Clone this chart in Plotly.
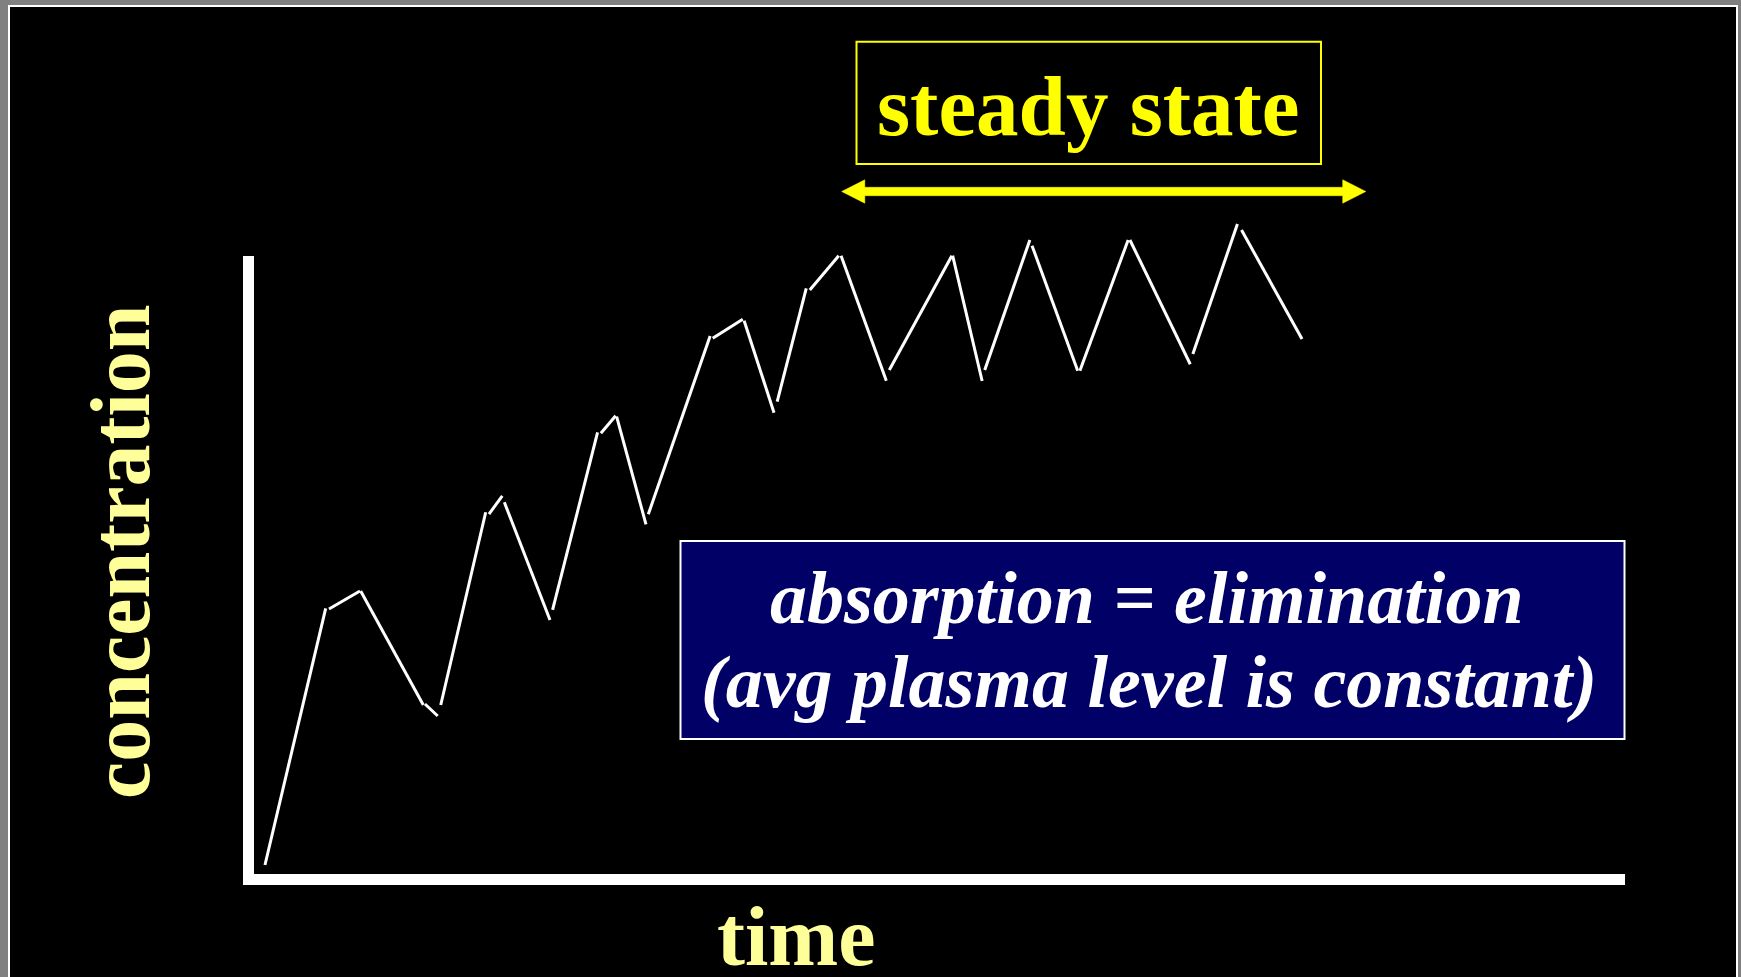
import plotly.graph_objects as go

# ---------------- data (time in arbitrary units, concentration in %) ----------------
# the curve is drawn as short hand-drawn strokes; None separates strokes
time = [0.80, 5.23, None,
        5.47, 7.73, None,
        7.78, 12.35, None,
        12.47, 13.40, None,
        13.62, 16.90, None,
        17.14, 18.11, None,
        18.26, 21.59, None,
        21.78, 25.06, None,
        25.30, 26.38, None,
        26.45, 28.59, None,
        28.76, 33.27, None,
        33.46, 35.65, None,
        35.75, 37.93, None,
        38.16, 40.28, None,
        40.54, 42.65, None,
        42.82, 46.12, None,
        46.34, 50.90, None,
        50.96, 53.11, None,
        53.30, 56.59, None,
        56.75, 60.08, None,
        60.24, 63.76, None,
        63.89, 68.29, None,
        68.48, 71.73, None,
        72.03, 76.44]
conc = [1.46, 42.99, None,
        42.88, 45.79, None,
        45.79, 27.35, None,
        27.51, 25.57, None,
        27.35, 58.53, None,
        58.25, 61.17, None,
        60.15, 41.10, None,
        42.72, 71.47, None,
        71.31, 74.16, None,
        74.00, 56.59, None,
        58.20, 87.06, None,
        86.68, 89.76, None,
        89.53, 74.64, None,
        76.42, 94.77, None,
        94.50, 100.05, None,
        100.05, 79.82, None,
        81.55, 100.05, None,
        100.05, 79.77, None,
        81.55, 102.59, None,
        101.67, 81.44, None,
        81.44, 102.59, None,
        102.59, 82.48, None,
        84.14, 105.18, None,
        104.21, 86.57]

x_label = "time"
y_label = "concentration"
phase_label = "steady state"
note_lines = ["absorption = elimination", "(avg plasma level is constant)"]

# ---------------- layout helpers (pixel -> paper) ----------------
W, H = 1741, 977
def X(px):
    return px / W
def Y(py):
    return 1 - py / H

SERIF = "Liberation Serif, Times New Roman, serif"
LIGHT_YELLOW = "#FFFF99"
YELLOW = "#FFFF00"

x_range = [0, 100]
y_range = [0, 130]
px_per_y = 6.18
plot_left, plot_right, plot_bottom = 254, 1625, 874
plot_top = plot_bottom - (y_range[1] - y_range[0]) * px_per_y

fig = go.Figure()
fig.add_trace(go.Scatter(
    x=time, y=conc, mode="lines",
    line=dict(color="white", width=3),
    connectgaps=False, hoverinfo="skip", showlegend=False,
))

shapes = [
    dict(type="rect", xref="paper", yref="paper", layer="below",
         x0=X(9), x1=X(1737), y0=Y(6), y1=Y(1000),
         fillcolor="black", line=dict(color="white", width=2)),
    dict(type="rect", xref="paper", yref="paper", layer="above",
         x0=X(243), x1=X(254), y0=Y(256), y1=Y(885),
         fillcolor="white", line=dict(width=0)),
    dict(type="rect", xref="paper", yref="paper", layer="above",
         x0=X(243), x1=X(1625), y0=Y(874), y1=Y(885),
         fillcolor="white", line=dict(width=0)),
    dict(type="rect", xref="paper", yref="paper", layer="above",
         x0=X(856.5), x1=X(1321), y0=Y(41.7), y1=Y(164),
         fillcolor="rgba(0,0,0,0)", line=dict(color=YELLOW, width=2)),
    dict(type="rect", xref="paper", yref="paper", layer="above",
         x0=X(680.5), x1=X(1624.5), y0=Y(541), y1=Y(739),
         fillcolor="#000066", line=dict(color="white", width=2)),
]

ay, bar_h, head_h = 191.5, 4.2, 11.7
lt, lb, rb, rt = 841.7, 864.8, 1342.7, 1365.8
pts = [(lt, ay), (lb, ay - head_h), (lb, ay - bar_h), (rb, ay - bar_h), (rb, ay - head_h),
       (rt, ay), (rb, ay + head_h), (rb, ay + bar_h), (lb, ay + bar_h), (lb, ay + head_h)]
path = "M " + " L ".join(f"{X(px):.6f},{Y(py):.6f}" for px, py in pts) + " Z"
shapes.append(dict(type="path", xref="paper", yref="paper", layer="above", path=path,
                   fillcolor=YELLOW, line=dict(color=YELLOW, width=0.5)))

annotations = [
    dict(text=phase_label, xref="paper", yref="paper", x=X(1088.5), y=Y(105.5),
         xanchor="center", yanchor="middle", showarrow=False,
         font=dict(family=SERIF, size=85, color=YELLOW, weight="bold")),
    dict(text=note_lines[0], xref="paper", yref="paper", x=X(1147), y=Y(597.7),
         xanchor="center", yanchor="middle", showarrow=False,
         font=dict(family=SERIF, size=74, color="white", weight="bold", style="italic")),
    dict(text=note_lines[1], xref="paper", yref="paper", x=X(1149), y=Y(681.7),
         xanchor="center", yanchor="middle", showarrow=False,
         font=dict(family=SERIF, size=74, color="white", weight="bold", style="italic")),
    dict(text=x_label, xref="paper", yref="paper", x=X(796), y=Y(936.6),
         xanchor="center", yanchor="middle", showarrow=False,
         font=dict(family=SERIF, size=84, color=LIGHT_YELLOW, weight="bold")),
    dict(text=y_label, xref="paper", yref="paper", x=X(120.5), y=Y(551.5),
         xanchor="center", yanchor="middle", showarrow=False, textangle=-90,
         font=dict(family=SERIF, size=84, color=LIGHT_YELLOW, weight="bold")),
]

fig.update_layout(
    width=W, height=H, autosize=False,
    margin=dict(l=0, r=0, t=0, b=0, pad=0),
    paper_bgcolor="#808080", plot_bgcolor="rgba(0,0,0,0)",
    xaxis=dict(range=x_range, visible=False, fixedrange=True,
               domain=[X(plot_left), X(plot_right)]),
    yaxis=dict(range=y_range, visible=False, fixedrange=True,
               domain=[Y(plot_bottom), Y(plot_top)]),
    shapes=shapes, annotations=annotations, showlegend=False,
)

fig.write_html("out.html", config={"displayModeBar": False, "staticPlot": True},
               post_script="document.body.style.margin='0';document.body.style.overflow='hidden';")
